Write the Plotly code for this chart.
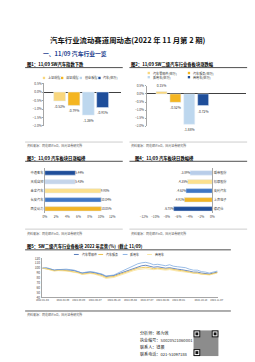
import plotly.graph_objects as go
import pandas as pd

W, H = 255, 362
FONT = "Noto Sans CJK SC, Noto Sans, sans-serif"


def X(px):
    return px / W


def Y(py):
    return 1 - py / H


# ---------------- data ----------------
c1_names = ["上证综指", "深证成指", "创业板指", "汽车(申万)"]
c1_values = [-0.53, -0.79, -1.36, -0.91]
c1_colors = ["#F9D77E", "#F4B521", "#BDD7EE", "#1F4E9A"]

c2_names = ["汽车零部件(申万)", "汽车服务(申万)", "乘用车(申万)", "商用车(申万)"]
c2_values = [0.15, -0.52, -1.88, -0.72]
c2_colors = ["#F9D77E", "#F4B521", "#BDD7EE", "#1F4E9A"]

c3_names = ["中通客车", "天成自控", "金龙汽车", "长安汽车", "西菱动力"]
c3_values = [5.44, 5.43, 9.98, 10.04, 10.05]
c3_colors = ["#1F4E9A", "#C5D5EA", "#FBE08E", "#3F76C4", "#F2B527"]

c4_names = ["威帝股份", "松原股份", "英利汽车", "上声电子", "德迈仕"]
c4_values = [-3.89, -4.35, -4.62, -4.91, -6.78]
c4_colors = ["#B8CDE9", "#FBE08E", "#3F76C4", "#F2B527", "#1F4E9A"]

c5_dates = pd.date_range("2022-01-04", "2022-11-08", freq="7D")
c5_names = ["汽车零部件", "汽车服务", "乘用车", "商用车"]
c5_colors = ["#2E5AA8", "#E8B321", "#6FA0DC", "#F8DE8A"]
c5_parts = [100, 100, 98, 96, 97, 97, 97, 96, 95, 93, 90, 91, 92, 91, 89, 87, 83, 84, 85, 88,
            91, 94, 97, 100, 103, 105, 106, 104, 102, 103, 101, 100, 101, 99, 98, 97, 96, 94,
            92, 92, 90, 89, 88, 90, 92]
c5_service = [100, 99, 97, 95, 96, 96, 95, 94, 93, 91, 88, 89, 90, 89, 87, 85, 81, 82, 83, 86,
              89, 92, 95, 98, 100, 101, 102, 101, 99, 100, 99, 98, 99, 97, 96, 95, 94, 92,
              90, 90, 88, 88, 87, 89, 91]
c5_passenger = [100, 101, 99, 96, 97, 98, 98, 97, 96, 93, 90, 92, 93, 92, 90, 88, 84, 85, 86, 90,
                94, 98, 102, 106, 109, 111, 112, 110, 107, 108, 106, 105, 107, 104, 103, 102, 101,
                98, 96, 96, 93, 92, 90, 92, 94]
c5_commercial = [100, 99, 96, 94, 95, 95, 94, 93, 92, 90, 87, 88, 89, 88, 86, 83, 79, 80, 81, 84,
                 87, 90, 93, 95, 97, 98, 99, 98, 97, 98, 97, 96, 97, 95, 94, 93, 92, 90,
                 89, 89, 87, 87, 86, 88, 90]
c5_series = [c5_parts, c5_service, c5_passenger, c5_commercial]
c5_ticks = ["2022-01-04", "2022-02-09", "2022-03-09", "2022-04-07", "2022-05-10", "2022-06-08",
            "2022-07-07", "2022-08-04", "2022-09-01", "2022-10-10", "2022-11-07"]

fig = go.Figure()
TF = dict(family=FONT, size=3.3, color="#333333")

# chart 1
for i, (n, v, c) in enumerate(zip(c1_names, c1_values, c1_colors)):
    fig.add_trace(go.Bar(x=[i], y=[v], name=n, marker_color=c, width=0.83,
                         text=[f"{v:.2f}%"], textposition="outside", textfont=TF,
                         cliponaxis=False, xaxis="x", yaxis="y"))
# chart 2
for i, (n, v, c) in enumerate(zip(c2_names, c2_values, c2_colors)):
    fig.add_trace(go.Bar(x=[i], y=[v], name=n, marker_color=c, width=0.79,
                         text=[f"{v:.2f}%"], textposition="outside", textfont=TF,
                         cliponaxis=False, xaxis="x2", yaxis="y2"))
# chart 3
fig.add_trace(go.Bar(y=c3_names, x=c3_values, orientation="h", marker_color=c3_colors,
                     width=0.5, text=[f"{v:.2f}%" for v in c3_values], textposition="outside",
                     textfont=TF, cliponaxis=False, xaxis="x3", yaxis="y3"))
# chart 4
fig.add_trace(go.Bar(y=c4_names, x=c4_values, orientation="h", marker_color=c4_colors,
                     width=0.5, text=[f"{v:.2f}%" for v in c4_values], textposition="outside",
                     textfont=TF, cliponaxis=False, xaxis="x4", yaxis="y4"))
# chart 5
for n, s, c in zip(c5_names, c5_series, c5_colors):
    fig.add_trace(go.Scatter(x=c5_dates, y=s, name=n, mode="lines",
                             line=dict(color=c, width=0.7), xaxis="x5", yaxis="y5"))

AX = dict(tickfont=dict(family=FONT, size=3.2, color="#444444"), showgrid=False,
          linecolor="#A6A6A6", linewidth=0.5, zeroline=False)

fig.update_layout(
    width=W, height=H, margin=dict(l=0, r=0, t=0, b=0),
    paper_bgcolor="white", plot_bgcolor="white", showlegend=False,
    font=dict(family=FONT),
    xaxis=dict(domain=[X(40), X(120)], range=[-1.07, 4.27], visible=False),
    yaxis=dict(domain=[Y(124.7), Y(81.7)], range=[-2.0, 0.5], dtick=0.5, tickformat=".1f",
               ticksuffix="%", showline=True, ticks="outside", ticklen=1.2, tickwidth=0.5,
               tickcolor="#A6A6A6", zeroline=True, zerolinecolor="#404040", zerolinewidth=0.6,
               **{k: v for k, v in AX.items() if k != "zeroline"}),
    xaxis2=dict(domain=[X(147), X(251)], range=[-1.07, 6.1], visible=False, anchor="y2"),
    yaxis2=dict(domain=[Y(125), Y(84)], range=[-2.0, 0.5], dtick=0.5, tickformat=".1f",
                ticksuffix="%", showline=True, ticks="outside", ticklen=1.2, tickwidth=0.5,
                tickcolor="#A6A6A6", zeroline=True, zerolinecolor="#404040", zerolinewidth=0.6,
                anchor="x2", **{k: v for k, v in AX.items() if k != "zeroline"}),
    xaxis3=dict(domain=[X(40.5), X(111)], range=[0, 12], dtick=2, ticksuffix="%",
                anchor="y3", showline=False, **AX),
    yaxis3=dict(domain=[Y(213.3), Y(167.7)], autorange="reversed", anchor="x3",
                showline=True, ticks="", **AX),
    xaxis4=dict(domain=[X(144), X(215.7)], range=[-12, 0], dtick=2, ticksuffix="%",
                anchor="y4", showline=False, **AX),
    yaxis4=dict(domain=[Y(213.3), Y(167.7)], autorange="reversed", anchor="x4", side="right",
                showline=True, ticks="", **AX),
    xaxis5=dict(domain=[X(38), X(222)], range=["2022-01-04", "2022-11-10"], anchor="y5",
                tickvals=c5_ticks, ticktext=c5_ticks, tickangle=0, showline=True,
                **{**AX, "tickfont": dict(family=FONT, size=2.5, color="#444444")}),
    yaxis5=dict(domain=[Y(298.6), Y(259)], range=[40, 120], dtick=10, anchor="x5",
                showline=True, ticks="outside", ticklen=1, tickwidth=0.5, tickcolor="#A6A6A6",
                **AX),
)

ann = []
shapes = []


def text(px, py, s, size, color="#000000", anchor="left", bold=False):
    if bold:
        s = f"<b>{s}</b>"
    ann.append(dict(x=X(px), y=Y(py), xref="paper", yref="paper", text=s, showarrow=False,
                    xanchor=anchor, yanchor="middle",
                    font=dict(family=FONT, size=size, color=color)))


def hline(x0, x1, py, color, width):
    shapes.append(dict(type="line", xref="paper", yref="paper", x0=X(x0), x1=X(x1),
                       y0=Y(py), y1=Y(py), line=dict(color=color, width=width)))


def rect(x0, y0, x1, y1, color):
    shapes.append(dict(type="rect", xref="paper", yref="paper", x0=X(x0), x1=X(x1),
                       y0=Y(y1), y1=Y(y0), fillcolor=color, line=dict(width=0)))


text(127.5, 37, "汽车行业流动赛道周动态(2022 年 11 月第 2 期)", 7.4, "#111111", "center", True)
text(37, 51.7, "一、11/09 汽车行业一览", 5.8, "#1F3F8F", "left", True)

# chart titles, rules and sources
src = "资料来源：同花顺iFinD，国元证券研究所"
text(20, 62.7, "图1：11/09 SW汽车指数下跌", 4.3, bold=True)
hline(20, 122, 65.5, "#222222", 0.8)
hline(20, 122, 141, "#9A9A9A", 0.5)
text(20, 144.3, src, 3.0, "#555555")

text(129, 62.7, "图2：11/09 SW二级汽车行业各板块涨跌幅", 4.3, bold=True)
hline(129, 252, 65.5, "#222222", 0.8)
hline(129, 252, 141, "#9A9A9A", 0.5)
text(129, 144.3, src, 3.0, "#555555")

text(20, 157.7, "图3：11/09 汽车板块日涨幅榜", 4.3, bold=True)
hline(20, 122, 160.5, "#222222", 0.8)
hline(20, 122, 229.3, "#9A9A9A", 0.5)
text(20, 233.5, src, 3.0, "#555555")

text(133, 157.7, "图4：11/09 汽车板块日跌幅榜", 4.3, bold=True)
hline(129, 252, 160.5, "#222222", 0.8)
hline(129, 252, 229.3, "#9A9A9A", 0.5)
text(129, 233.5, src, 3.0, "#555555")

text(20, 247.3, "图5：SW二级汽车行业各板块 2022 年走势(%)  (截止 11/09)", 4.3, bold=True)
hline(20, 235, 250.3, "#222222", 0.8)
hline(20, 235, 312.3, "#333333", 0.8)
text(20, 315.7, src, 3.0, "#555555")

# legends chart 1
for n, c, px in zip(c1_names, c1_colors, [38.5, 57.5, 77, 96.5]):
    rect(px, 74.8, px + 2.4, 77.2, c)
    text(px + 3.2, 76, n, 3.1, "#333333")
# legend chart 2
for n, c, px, py in zip(c2_names, c2_colors, [148, 190, 148, 190], [71, 71, 75.2, 75.2]):
    rect(px, py - 1.2, px + 2.4, py + 1.2, c)
    text(px + 3.2, py, n, 3.1, "#333333")
# legend chart 5
for n, c, px in zip(c5_names, c5_colors, [71, 96.5, 122, 147.5]):
    shapes.append(dict(type="line", xref="paper", yref="paper", x0=X(px), x1=X(px + 5),
                       y0=Y(255), y1=Y(255), line=dict(color=c, width=0.8)))
    text(px + 6, 255, n, 3.0, "#333333")

# footer
for i, s in enumerate(["分析师：杨为敩", "执业编号：S0020521060001", "联系人：钱晨",
                       "联系电话：021-51097188"]):
    text(138, 334.3 + i * 7.1, s, 4.1, "#222222")

# QR block
rect(196, 332, 222, 358, "#8C8C8C")
for qx, qy in [(196, 332), (215, 332), (196, 351)]:
    rect(qx, qy, qx + 7, qy + 7, "#111111")
    rect(qx + 1, qy + 1, qx + 6, qy + 6, "#FFFFFF")
    rect(qx + 2, qy + 2, qx + 5, qy + 5, "#111111")

fig.update_layout(annotations=ann, shapes=shapes)
fig.write_html("out.html")
